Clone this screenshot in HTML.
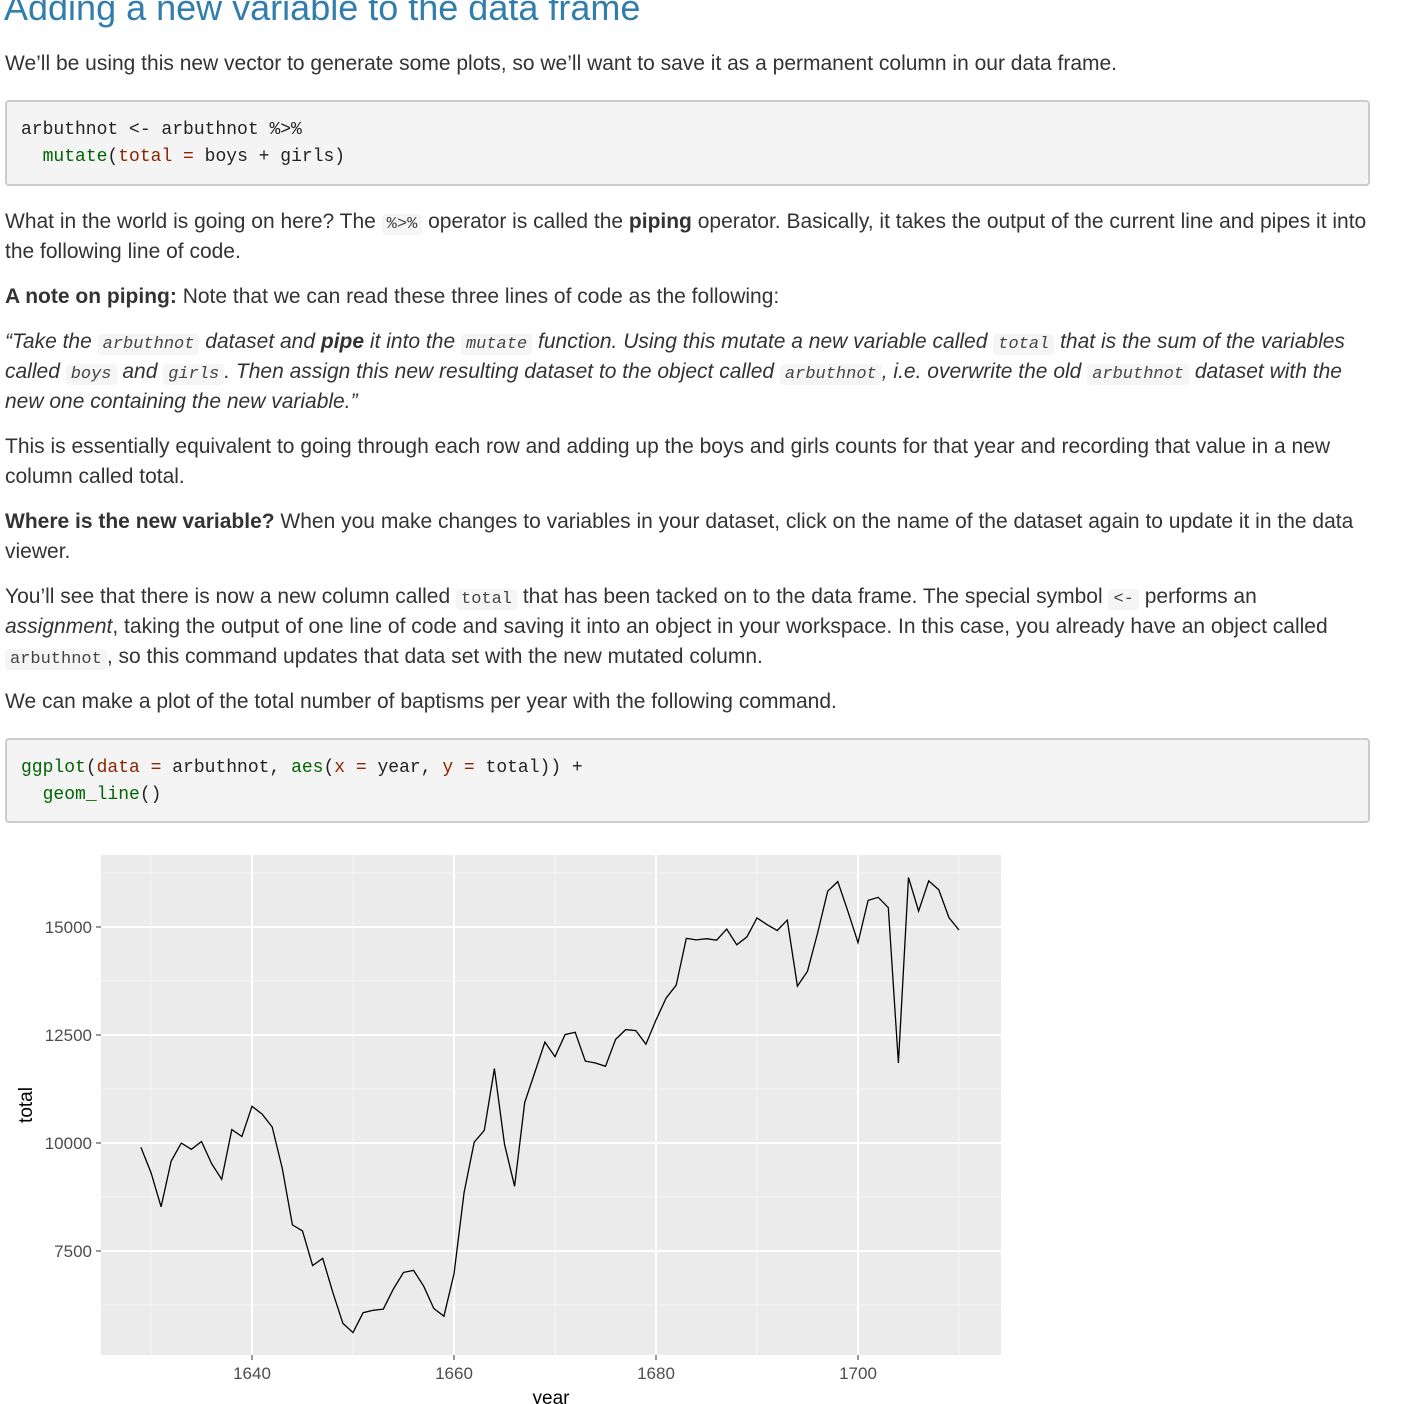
<!DOCTYPE html>
<html><head><meta charset="utf-8">
<style>
body{margin:0;width:1401px;height:1404px;overflow:hidden;background:#fff;font-family:"Liberation Sans",Helvetica,Arial,sans-serif;color:#333;font-size:21px;position:relative}
.l{position:absolute;left:5px;line-height:30px;white-space:nowrap}
h1{position:absolute;left:4px;top:-12px;margin:0;font-weight:normal;color:#317eac;font-size:36px;line-height:40px}
.code{position:absolute;left:5px;width:1365px;background:#f4f4f4;border:2px solid #ccc;border-radius:4px;box-sizing:border-box;font-family:"Liberation Mono",monospace;font-size:18px;line-height:27px;padding:15px 14px;color:#222;white-space:pre}
.fn{color:#006400}.ar{color:#8b2500}
code{font-family:"Liberation Mono",monospace;font-size:17px;background:#f5f5f5;border-radius:4px;padding:1px 5px;color:#444}
i code{font-style:italic}
</style></head><body>
<h1>Adding a new variable to the data frame</h1>
<div class="l" style="top:49px">We’ll be using this new vector to generate some plots, so we’ll want to save it as a permanent column in our data frame.</div>
<div class="code" style="top:100px;height:86px">arbuthnot &lt;- arbuthnot %&gt;%
  <span class="fn">mutate</span>(<span class="ar">total =</span> boys + girls)</div>
<div class="l" style="top:207px">What in the world is going on here? The <code>%&gt;%</code> operator is called the <b>piping</b> operator. Basically, it takes the output of the current line and pipes it into</div>
<div class="l" style="top:237px">the following line of code.</div>
<div class="l" style="top:282px"><b>A note on piping:</b> Note that we can read these three lines of code as the following:</div>
<div class="l" style="top:327px;font-style:italic">“Take the <code>arbuthnot</code> dataset and <b>pipe</b> it into the <code>mutate</code> function. Using this mutate a new variable called <code>total</code> that is the sum of the variables</div>
<div class="l" style="top:357px;font-style:italic">called <code>boys</code> and <code>girls</code>. Then assign this new resulting dataset to the object called <code>arbuthnot</code>, i.e. overwrite the old <code>arbuthnot</code> dataset with the</div>
<div class="l" style="top:387px;font-style:italic">new one containing the new variable.”</div>
<div class="l" style="top:432px">This is essentially equivalent to going through each row and adding up the boys and girls counts for that year and recording that value in a new</div>
<div class="l" style="top:462px">column called total.</div>
<div class="l" style="top:507px"><b>Where is the new variable?</b> When you make changes to variables in your dataset, click on the name of the dataset again to update it in the data</div>
<div class="l" style="top:537px">viewer.</div>
<div class="l" style="top:582px">You’ll see that there is now a new column called <code>total</code> that has been tacked on to the data frame. The special symbol <code>&lt;-</code> performs an</div>
<div class="l" style="top:612px"><i>assignment</i>, taking the output of one line of code and saving it into an object in your workspace. In this case, you already have an object called</div>
<div class="l" style="top:642px"><code>arbuthnot</code>, so this command updates that data set with the new mutated column.</div>
<div class="l" style="top:687px">We can make a plot of the total number of baptisms per year with the following command.</div>
<div class="code" style="top:738px;height:85px"><span class="fn">ggplot</span>(<span class="ar">data =</span> arbuthnot, <span class="fn">aes</span>(<span class="ar">x =</span> year, <span class="ar">y =</span> total)) +
  <span class="fn">geom_line</span>()</div>
<svg id="chart" style="position:absolute;left:0;top:0" width="1401" height="1404" font-family="Liberation Sans, Arial, sans-serif"></svg>
<script>
const years=[];for(let y=1629;y<=1710;y++)years.push(y);
const totals=[9901,9315,8524,9584,9997,9855,10034,9522,9160,10311,10150,10850,10670,10370,9410,8104,7966,7163,7332,6544,5825,5612,6071,6128,6155,6620,7004,7050,6685,6170,5990,6971,8855,10019,10292,11722,9972,8997,10938,11633,12335,11997,12510,12563,11895,11851,11775,12399,12626,12601,12288,12847,13355,13653,14735,14702,14730,14694,14951,14588,14771,15211,15054,14918,15159,13632,13976,14861,15829,16052,15363,14639,15616,15687,15448,11851,16145,15369,16066,15862,15220,14928];
const xTicks=[1640,1660,1680,1700];
const xMinor=[1630,1650,1670,1690,1710];
const yTicks=[7500,10000,12500,15000];
const yMinor=[6250,8750,11250,13750,16250];
const NS='http://www.w3.org/2000/svg';
const svg=document.getElementById('chart');
const L=101,R=1001,T=855,B=1355;
const X=v=>252+(v-1640)*(454-252)/20;
const Y=v=>927+(15000-v)*0.0432;
function mk(t,a,txt){const e=document.createElementNS(NS,t);for(const k in a)e.setAttribute(k,a[k]);if(txt!==undefined)e.textContent=txt;svg.appendChild(e);return e;}
let e=mk('rect',{x:L,y:T,width:R-L,height:B-T,fill:'#ebebeb'});


yMinor.forEach(v=>{const g=mk('line',{x1:L,x2:R,y1:Y(v),y2:Y(v),stroke:'#f7f7f7','stroke-width':1});});
xMinor.forEach(v=>{const g=mk('line',{x1:X(v),x2:X(v),y1:T,y2:B,stroke:'#f7f7f7','stroke-width':1});});
yTicks.forEach(v=>{
 const g=mk('line',{x1:L,x2:R,y1:Y(v),y2:Y(v),stroke:'#fff','stroke-width':2});
 const t=mk('line',{x1:L-5,x2:L,y1:Y(v),y2:Y(v),stroke:'#333','stroke-width':1});
 const l=mk('text',{x:L-9,y:Y(v)+6,'text-anchor':'end','font-size':17,fill:'#4d4d4d'},String(v));
});
xTicks.forEach(v=>{
 const g=mk('line',{x1:X(v),x2:X(v),y1:T,y2:B,stroke:'#fff','stroke-width':2});
 const t=mk('line',{x1:X(v),x2:X(v),y1:B,y2:B+5,stroke:'#333','stroke-width':1});
 const l=mk('text',{x:X(v),y:B+24,'text-anchor':'middle','font-size':17,fill:'#4d4d4d'},String(v));
});
const d=years.map((yr,i)=>(i?'L':'M')+X(yr).toFixed(1)+','+Y(totals[i]).toFixed(1)).join('');
const p=mk('path',{d:d,fill:'none',stroke:'#000','stroke-width':1.3});


const xt=mk('text',{x:(L+R)/2,y:1404,'text-anchor':'middle','font-size':19,fill:'#000'},'year');


const yt=mk('text',{x:0,y:0,'text-anchor':'middle','font-size':19,fill:'#000',transform:'translate(32,1105) rotate(-90)'},'total');


</script>
</body></html>
